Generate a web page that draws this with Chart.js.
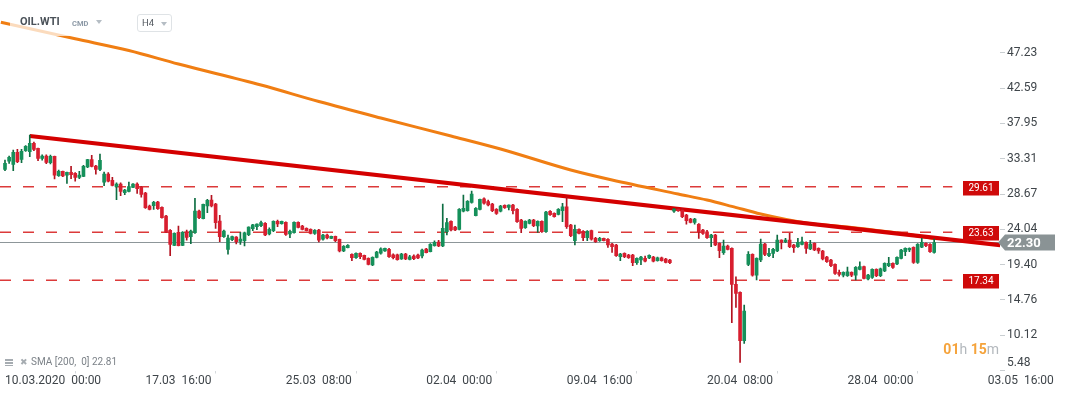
<!DOCTYPE html>
<html>
<head>
<meta charset="utf-8">
<script src="https://cdn.jsdelivr.net/npm/chart.js@4.4.0/dist/chart.umd.min.js"></script>
<style>
html,body{margin:0;padding:0;background:#fff;}
#wrap{position:relative;width:1067px;height:395px;font-family:Roboto,sans-serif;overflow:hidden;}
canvas{display:block;}
.hdr{position:absolute;left:10px;top:8px;width:165px;height:28px;background:rgba(255,255,255,0.72);}
.sym{position:absolute;left:20px;top:15px;font:bold 11px Roboto;color:#4b5259;}
.cmd{position:absolute;left:72px;top:19px;font:bold 7.5px Roboto;color:#8c99a6;}
.tri{position:absolute;width:0;height:0;border-left:3.5px solid transparent;border-right:3.5px solid transparent;border-top:4px solid #b5bdc4;}
.tf{position:absolute;left:137px;top:14px;width:33px;height:16px;border:1px solid #dfe3e6;border-radius:3px;background:#fff;}
.tf span.t{position:absolute;left:4px;top:2px;font:9.5px Roboto;color:#555b61;}
.leg{position:absolute;left:5px;top:356px;font:10px Roboto;color:#7c8288;white-space:pre;}
.leg .ico{display:inline-block;width:8px;height:7px;margin-right:7px;vertical-align:-1px;
  background:linear-gradient(#a6acb1 0 2px,transparent 2px 3px,#a6acb1 3px 5px,transparent 5px 6px,#a6acb1 6px 7px);}
.leg .x{font-size:9px;color:#a6acb1;margin-right:3px;}
.timer{position:absolute;right:68px;top:341px;font:bold 14px Roboto;color:#f5a33b;white-space:pre;}
.timer i{font-style:normal;font-weight:normal;color:#b3b8bd;}
</style>
</head>
<body>
<div id="wrap">
<canvas id="c" width="1067" height="395"></canvas>
<div class="hdr"></div>
<div class="sym">OIL.WTI</div>
<div class="cmd">CMD</div>
<div class="tri" style="left:96px;top:20px"></div>
<div class="tf"><span class="t">H4</span><span class="tri" style="left:23px;top:7px"></span></div>
<div class="leg" id="leg"></div>
<div class="timer"><span>01</span><i>h</i> <span>15</span><i>m</i></div>
</div>
<script>
// H4 candles, OIL.WTI 10.03.2020 onwards
const open = [31.91,32.97,32.57,34.15,33.23,34.36,34.23,35.33,34.67,33.36,
  33.66,32.78,33.62,31.07,31.65,31.13,31.52,31.39,30.86,30.99,
  32.22,33.18,32.35,31.91,30.21,31.30,30.47,29.63,29.98,28.84,
  29.02,29.55,29.98,29.55,28.80,27.09,27.13,27.62,26.92,25.78,
  23.90,21.93,23.64,21.93,23.67,23.06,23.58,26.43,25.42,27.09,
  27.88,27.35,25.12,23.06,21.40,22.66,23.02,22.45,22.53,23.32,
  24.11,24.37,24.50,24.82,23.41,23.85,25.08,24.77,24.95,23.41,
  23.58,24.95,24.46,24.16,24.03,23.50,23.94,22.72,23.28,22.85,
  23.11,22.72,21.18,21.61,20.74,20.30,20.88,20.61,20.22,19.34,
  20.35,20.88,21.18,21.40,20.69,20.69,20.13,20.78,20.09,20.52,
  20.65,20.52,21.44,21.09,21.88,22.36,21.84,23.71,25.08,24.33,
  24.03,26.43,26.48,27.58,25.82,26.66,28.05,27.66,27.35,26.66,
  26.40,27.18,26.92,27.22,26.66,25.25,24.24,24.82,25.25,24.46,
  25.08,23.71,26.40,26.13,25.99,26.47,27.00,24.59,22.53,24.03,
  23.77,22.93,23.85,22.85,22.53,22.85,22.72,22.10,21.97,20.43,
  20.87,20.65,20.65,19.64,20.00,20.22,20.26,20.39,19.90,20.30,
  20.13,20.00,26.43,26.70,26.57,25.91,25.38,24.95,24.69,23.94,
  23.71,22.93,23.28,22.19,20.95,21.84,21.53,16.80,15.75,9.39,
  19.43,20.74,18.02,20.00,22.10,20.56,20.87,21.18,22.62,22.40,
  22.62,21.97,21.75,22.06,22.32,21.44,22.19,21.53,21.18,20.39,
  20.00,19.43,18.38,18.02,17.93,18.38,18.02,18.77,19.12,17.50,
  17.72,18.77,17.93,18.55,19.25,19.56,19.47,20.22,21.09,21.31,
  21.66,19.69,21.70,22.19,22.06,21.01];
const high = [33.14,33.66,34.45,34.54,34.54,35.02,36.42,35.50,34.71,33.83,
  33.83,33.79,33.66,31.82,31.69,31.56,32.31,31.47,31.65,32.44,
  33.23,33.75,32.44,33.92,31.56,31.47,30.86,30.15,30.15,29.29,
  30.25,30.05,30.15,29.63,28.89,27.22,27.71,27.71,27.00,25.87,
  23.98,23.58,24.46,23.72,23.93,23.93,28.10,26.56,27.35,27.97,
  28.50,27.45,25.87,23.93,23.28,23.15,23.06,23.64,23.67,24.37,
  24.69,24.76,25.12,24.90,24.24,25.16,25.25,25.12,25.03,23.94,
  25.03,25.03,24.55,24.24,24.11,23.98,24.03,23.37,23.41,23.15,
  23.15,22.76,21.88,22.01,20.82,20.95,20.95,20.65,20.30,20.43,
  21.14,21.61,21.57,21.53,20.82,20.78,20.87,20.87,20.61,20.69,
  20.78,21.44,21.53,22.14,22.53,22.58,27.35,25.47,25.16,24.42,
  26.74,28.54,27.79,29.06,26.87,28.01,28.18,27.88,27.45,26.74,
  27.18,27.26,27.26,27.31,26.74,25.34,25.16,25.34,25.34,25.16,
  25.16,26.40,26.48,26.21,26.74,27.45,28.31,24.69,24.59,24.11,
  23.85,23.85,23.94,22.98,22.98,22.89,22.80,22.19,22.06,20.87,
  20.95,20.74,20.74,20.30,20.48,20.52,20.69,20.48,20.39,20.39,
  20.22,20.09,26.79,26.76,26.79,26.00,25.47,25.47,24.77,24.03,
  23.90,23.37,23.37,22.27,22.62,21.97,21.61,17.80,15.83,14.08,
  21.09,20.82,20.30,22.75,22.19,21.53,21.53,23.28,22.66,22.85,
  23.50,22.06,22.85,23.02,22.40,22.58,22.27,21.61,21.27,20.48,
  20.09,19.51,18.68,18.46,19.08,18.46,19.12,19.77,19.21,18.12,
  18.85,18.85,18.94,19.64,20.35,19.64,20.43,21.40,21.61,21.61,
  21.74,22.14,22.84,22.27,22.14,22.75];
const low = [31.73,32.70,31.73,32.78,32.78,34.28,33.57,34.36,33.04,33.10,
  32.65,32.61,30.64,30.99,30.94,30.07,30.68,30.34,30.68,30.94,
  32.12,32.22,31.26,31.73,29.76,30.25,29.72,27.92,28.45,28.58,
  28.93,29.50,28.76,28.27,26.79,26.57,26.66,26.66,25.51,23.58,
  20.56,21.88,21.84,21.88,22.62,22.14,23.50,25.42,25.38,26.21,
  26.96,24.16,22.40,22.98,20.78,22.53,22.10,22.06,21.84,23.19,
  23.85,23.98,24.37,23.19,23.28,23.71,24.37,24.69,23.24,22.93,
  23.54,24.20,23.94,23.81,23.41,23.37,22.36,22.62,22.76,22.80,
  22.40,21.05,21.09,21.57,19.90,20.22,20.17,20.00,19.34,19.25,
  20.26,20.78,21.14,20.35,20.13,19.96,20.09,20.04,20.00,20.04,
  20.17,20.26,20.92,21.05,21.80,21.75,21.75,23.28,23.81,23.85,
  23.94,26.30,26.40,27.45,25.78,26.57,27.32,27.09,26.34,26.00,
  26.30,26.79,26.57,26.04,24.95,23.58,24.16,24.73,24.37,23.63,
  23.63,23.63,25.87,25.61,25.91,25.03,24.16,23.06,21.97,23.41,
  22.53,22.53,22.62,22.32,22.45,22.49,21.66,21.01,20.48,19.90,
  20.30,20.22,19.25,19.43,19.38,19.74,20.17,19.74,19.83,19.83,
  19.60,19.51,26.26,26.37,25.55,24.69,24.86,24.69,22.85,23.37,
  22.85,21.74,21.88,20.30,20.74,21.31,11.76,13.78,6.55,9.05,
  19.25,17.89,17.37,19.77,20.56,20.43,20.30,21.09,21.44,22.27,
  21.61,21.01,21.66,21.97,20.87,21.35,21.22,20.87,20.00,19.69,
  19.12,18.12,17.89,17.76,17.85,17.80,17.37,18.68,17.50,17.37,
  17.59,17.80,17.80,18.46,19.12,18.90,19.38,20.13,20.56,21.09,
  19.56,19.56,21.61,21.75,21.01,20.91];
const close = [32.70,33.49,34.15,32.91,34.28,34.94,35.33,34.54,33.36,33.66,
  32.83,33.62,31.13,31.65,31.03,31.52,31.20,30.86,31.17,32.31,
  33.18,32.31,31.91,33.10,31.30,30.34,29.81,29.98,29.02,29.19,
  29.63,29.98,29.37,28.63,26.87,26.66,27.58,26.74,25.55,23.67,
  22.06,23.50,21.88,23.64,22.98,23.81,26.43,25.55,27.31,27.84,
  27.09,24.90,23.06,23.81,22.89,23.06,22.40,22.75,23.58,24.33,
  24.63,24.72,24.90,23.28,24.03,25.08,24.73,25.08,23.37,23.77,
  24.95,24.29,24.03,23.85,23.50,23.90,22.62,23.28,22.89,23.11,
  22.53,21.18,21.80,21.93,20.30,20.88,20.43,20.09,19.43,20.35,
  21.05,21.48,21.53,20.43,20.30,20.04,20.78,20.13,20.43,20.17,
  20.26,21.31,20.95,22.06,22.32,21.84,24.16,24.90,23.94,23.94,
  26.66,26.79,27.71,28.67,26.79,27.97,27.45,27.22,26.47,26.13,
  27.09,26.87,27.22,26.47,25.03,24.16,25.08,25.25,24.50,25.08,
  23.71,26.30,25.95,25.69,26.66,27.00,24.37,23.19,24.03,23.50,
  22.93,23.77,22.72,22.40,22.85,22.53,21.97,21.75,20.56,20.78,
  20.43,20.30,19.64,20.22,20.39,19.83,20.61,19.83,20.30,19.90,
  19.69,19.64,26.70,26.47,25.69,25.16,24.95,25.38,23.71,23.50,
  22.93,23.28,21.97,21.22,21.84,21.40,16.80,15.62,9.39,13.29,
  20.74,18.02,20.22,22.10,20.74,20.87,21.40,22.62,22.32,22.62,
  21.75,21.61,22.32,22.40,21.53,22.10,21.31,21.18,20.13,19.77,
  19.25,18.25,18.12,18.38,18.46,18.02,19.04,19.12,17.59,18.02,
  18.77,17.93,18.85,19.56,19.56,19.04,20.35,21.31,21.53,21.53,
  19.69,22.06,22.32,21.88,21.09,22.30];

// SMA(200) at some bar indexes
const smaIdx = [-1, 17, 30, 42, 62, 76, 91, 108, 120, 137, 147, 163, 170, 176, 183, 194, 205, 217, 225];
const smaVal = [51.24, 49.06, 47.52, 45.75, 42.99, 40.82, 38.66, 36.29, 34.58, 31.82, 30.51, 28.67, 27.88, 27.05, 26.04, 24.86, 24.27, 23.48, 22.81];

// trend line (two anchors) and horizontal levels
const trendIdx = [6, 241];
const trendVal = [36.29, 21.95];
const levels = [29.61, 23.63, 17.34];
const lastPrice = 22.30;

const xTickIdx = [0, 34, 68, 102, 136, 170, 204, 238];
const xLabels = ['10.03.2020  00:00', '17.03  16:00', '25.03  08:00', '02.04  00:00', '09.04  16:00', '20.04  08:00', '28.04  00:00', '03.05  16:00'];
const yTicks = [5.48, 10.12, 14.76, 19.40, 24.04, 28.67, 33.31, 37.95, 42.59, 47.23];

const X_MIN = -1.21, X_MAX = 240.94, LEVEL_END = 229.4;
const UP = '#15905a', UP_W = '#0d6e42', DN = '#d81e2f', DN_W = '#b3121f';

document.getElementById('leg').innerHTML =
  '<span class="ico"></span><span class="x">✖</span>SMA [200,  0] ' + smaVal[smaVal.length - 1].toFixed(2);

const idx = open.map((_, i) => i);
const isUp = i => close[i] >= open[i];

const tags = {
  id: 'tags',
  afterDatasetsDraw(chart) {
    const {ctx, chartArea: a, scales: {y}} = chart;
    ctx.save();
    ctx.textAlign = 'center';
    ctx.textBaseline = 'middle';
    ctx.font = '10px Roboto';
    levels.forEach(v => {
      const py = Math.round(y.getPixelForValue(v));
      ctx.fillStyle = '#cf0a0a';
      ctx.fillRect(a.right - 37, py - 6, 36, 14.5);
      ctx.fillStyle = '#fff';
      ctx.fillText(v.toFixed(2), a.right - 19, py + 1.5);
    });
    const py = y.getPixelForValue(lastPrice);
    ctx.fillStyle = '#8a9395';
    ctx.beginPath();
    ctx.moveTo(a.right - 2, py);
    ctx.lineTo(a.right + 5, py - 8);
    ctx.lineTo(a.right + 55, py - 8);
    ctx.lineTo(a.right + 55, py + 8);
    ctx.lineTo(a.right + 5, py + 8);
    ctx.closePath();
    ctx.fill();
    ctx.fillStyle = '#fff';
    ctx.font = 'bold 13px Roboto';
    ctx.textAlign = 'left';
    ctx.fillText(lastPrice.toFixed(2), a.right + 7, py + 1);
    ctx.restore();
  }
};

Chart.defaults.font.family = 'Roboto';

const levelSets = levels.map(v => ({
  type: 'line',
  data: [{x: X_MIN, y: v}, {x: LEVEL_END, y: v}],
  borderColor: '#dc3a3a', borderWidth: 1.5, borderDash: [11, 12],
  pointRadius: 0, order: 6
}));

new Chart(document.getElementById('c'), {
  type: 'bar',
  data: {
    datasets: [
      {
        data: idx.map(i => ({x: i, y: [open[i], close[i]]})),
        backgroundColor: idx.map(i => isUp(i) ? UP : DN),
        barThickness: 3, minBarLength: 1, grouped: false, order: 0
      },
      {
        data: idx.map(i => ({x: i, y: [low[i], high[i]]})),
        backgroundColor: idx.map(i => isUp(i) ? UP_W : DN_W),
        barThickness: 1, grouped: false, order: 1
      },
      {
        type: 'line',
        data: trendIdx.map((x, k) => ({x, y: trendVal[k]})),
        borderColor: '#d40000', borderWidth: 4, pointRadius: 0, order: 3
      },
      {
        type: 'line',
        data: smaIdx.map((x, k) => ({x, y: smaVal[k]})),
        borderColor: '#f07e13', borderWidth: 3, pointRadius: 0,
        cubicInterpolationMode: 'monotone', order: 4
      },
      {
        type: 'line',
        data: [{x: X_MIN, y: lastPrice}, {x: X_MAX, y: lastPrice}],
        borderColor: '#8d9699', borderWidth: 1.2, pointRadius: 0, order: 5
      },
      ...levelSets
    ]
  },
  options: {
    responsive: false, animation: false, devicePixelRatio: 1,
    layout: {padding: 0},
    plugins: {legend: {display: false}, tooltip: {enabled: false}},
    scales: {
      x: {
        type: 'linear', min: X_MIN, max: X_MAX, offset: false,
        afterBuildTicks: s => { s.ticks = xTickIdx.map(v => ({value: v})); },
        afterFit: s => { s.height = 24.5; s.paddingLeft = 0; s.paddingRight = 0; },
        grid: {drawOnChartArea: false, tickLength: 3, color: '#d5d9dc'},
        border: {display: false},
        ticks: {
          align: 'start', padding: 0, maxRotation: 0, autoSkip: false,
          color: '#3f454a', font: {size: 12},
          callback: v => xLabels[xTickIdx.indexOf(v)] ?? ''
        }
      },
      y: {
        position: 'right', min: 5.48, max: 54.16,
        afterBuildTicks: s => { s.ticks = yTicks.map(v => ({value: v})); },
        afterFit: s => { s.width = 67; s.paddingTop = 0; s.paddingBottom = 0; },
        grid: {drawOnChartArea: false, tickLength: 5, color: '#c9ced1'},
        border: {display: false},
        ticks: {
          padding: 2, autoSkip: false, color: '#3f454a', font: {size: 12},
          // bottom label sits above its tick, as on the source chart
          callback: (v, i) => i === 0 ? [v.toFixed(2), ''] : v.toFixed(2)
        }
      }
    }
  },
  plugins: [tags]
});
</script>
</body>
</html>
